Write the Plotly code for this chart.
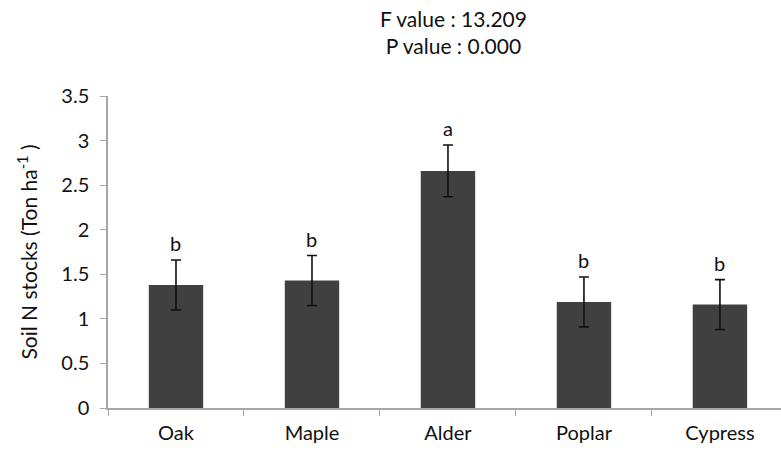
import plotly.graph_objects as go

species = ["Oak", "Maple", "Alder", "Poplar", "Cypress"]
n_stock = [1.38, 1.43, 2.66, 1.19, 1.16]
n_err = [0.28, 0.28, 0.29, 0.28, 0.28]
groups = ["b", "b", "a", "b", "b"]
y_ticks = [0, 0.5, 1, 1.5, 2, 2.5, 3, 3.5]

FONT = "Lato"
AXIS_GRAY = "#a6a6a6"
INK = "#111111"

fig = go.Figure()
fig.add_trace(go.Bar(
    x=species,
    y=n_stock,
    marker=dict(color="#404040", line=dict(width=0)),
    width=0.4,
    error_y=dict(type="data", array=n_err, visible=True,
                 color=INK, thickness=1.6, width=5),
))

# significance letters above each error bar
for s, v, e, g in zip(species, n_stock, n_err, groups):
    fig.add_annotation(x=s, y=v + e, text=g, showarrow=False,
                       yshift=17, font=dict(family=FONT, size=20, color=INK))

# ANOVA summary
fig.add_annotation(xref="paper", yref="paper", x=0.513, y=1.0, yanchor="middle",
                   yshift=64, text="F value : 13.209<br>P value : 0.000",
                   showarrow=False, align="center",
                   font=dict(family=FONT, size=21, color=INK))

fig.update_layout(
    width=781, height=455,
    margin=dict(l=108, r=0, t=96, b=47),
    plot_bgcolor="white", paper_bgcolor="white",
    showlegend=False,
    font=dict(family=FONT, size=20, color=INK),
)
fig.update_xaxes(
    range=[-0.5, 4.449],
    showline=True, linecolor=AXIS_GRAY, linewidth=1.5,
    ticks="outside", tickson="boundaries", ticklen=6, tickcolor=AXIS_GRAY,
    ticklabelstandoff=6,
    tickfont=dict(family=FONT, size=20, color=INK),
    showgrid=False, zeroline=False,
)
fig.update_yaxes(
    range=[0, 3.5], tickvals=y_ticks,
    showline=True, linecolor=AXIS_GRAY, linewidth=1.5,
    ticks="outside", ticklen=6, tickcolor=AXIS_GRAY,
    ticklabelstandoff=7,
    tickfont=dict(family=FONT, size=20, color=INK),
    showgrid=False, zeroline=False,
    title=dict(text="Soil N stocks (Ton ha<sup>-1</sup> )",
               font=dict(family=FONT, size=21, color=INK), standoff=18),
)

fig.write_html("out.html")
